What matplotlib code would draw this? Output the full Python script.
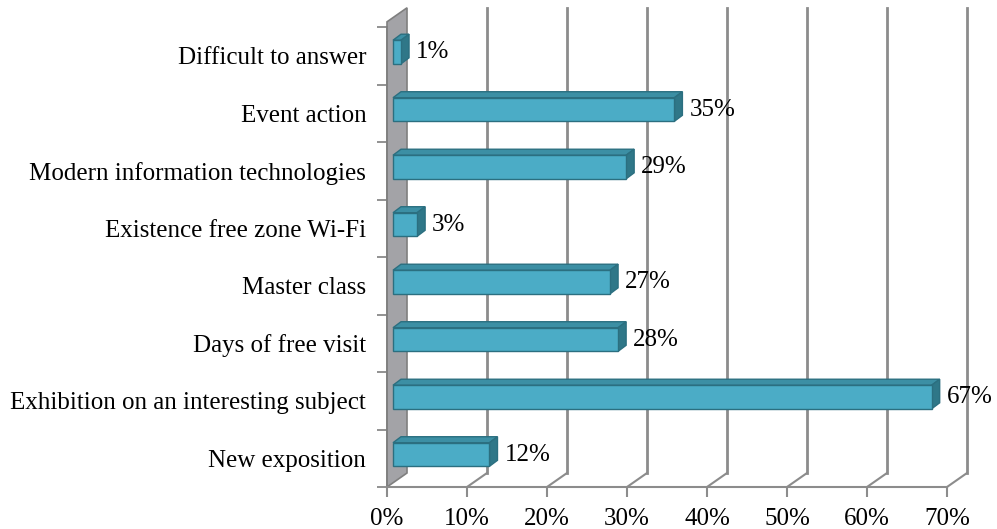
import matplotlib
matplotlib.use("Agg")
import matplotlib.pyplot as plt
from matplotlib.patches import Polygon

categories = ["New exposition", "Exhibition on an interesting subject", "Days of free visit",
              "Master class", "Existence free zone Wi-Fi", "Modern information technologies",
              "Event action", "Difficult to answer"]
values = [12, 67, 28, 27, 3, 29, 35, 1]
xticks = [0, 10, 20, 30, 40, 50, 60, 70]
xticklabels = ["0%", "10%", "20%", "30%", "40%", "50%", "60%", "70%"]

plt.rcParams['font.family'] = ['Liberation Serif', 'DejaVu Serif']
FS = 18

W, H = 997, 529
fig = plt.figure(figsize=(W / 100, H / 100), dpi=100)
# front plane: x 0..70 -> px 387..947, y 0..8 -> px 487..27 (from top)
left, right = 387, 947
bottom_px, top_px = 487, 27
ax = fig.add_axes([left / W, (H - bottom_px) / H, (right - left) / W, (bottom_px - top_px) / H])
ax.set_xlim(0, 70)
ax.set_ylim(0, 8)
ax.set_facecolor("none")

pxx = 70 / (right - left)      # data units per px (x)
pxy = 8 / (bottom_px - top_px)  # data units per px (y)
DX, DY = 20 * pxx, 14 * pxy     # depth offset
grid_c = "#8c8c8c"
top_y = 8.09

# left wall
wall = Polygon([(0, 0), (DX, DY), (DX, top_y + DY), (0, top_y)], closed=True,
               facecolor="#a3a3a7", edgecolor="#7f7f7f", lw=1.2, clip_on=False, zorder=1)
ax.add_patch(wall)

# back wall gridlines and floor diagonals
for xt in xticks[1:]:
    ax.plot([xt + DX, xt + DX], [DY, top_y + DY], color=grid_c, lw=2, clip_on=False, zorder=1)
    ax.plot([xt, xt + DX], [0, DY], color=grid_c, lw=1.5, clip_on=False, zorder=1)

# bars
bx0 = 6 * pxx
bscale = 1.005
bdx, bdy = 8 * pxx, 6 * pxy
face_c, top_c, side_c, edge_c = "#4bacc6", "#3c8fa4", "#2f7788", "#2b6f80"
for i, v in enumerate(values):
    y0, y1 = i + 0.36, i + 0.77
    x0, x1 = bx0, bx0 + v * bscale
    topf = Polygon([(x0, y1), (x0 + bdx, y1 + bdy), (x1 + bdx, y1 + bdy), (x1, y1)],
                   facecolor=top_c, edgecolor=edge_c, lw=1, clip_on=False, zorder=3)
    side = Polygon([(x1, y0), (x1 + bdx, y0 + bdy), (x1 + bdx, y1 + bdy), (x1, y1)],
                   facecolor=side_c, edgecolor=edge_c, lw=1, clip_on=False, zorder=3)
    front = Polygon([(x0, y0), (x1, y0), (x1, y1), (x0, y1)],
                    facecolor=face_c, edgecolor=edge_c, lw=1, clip_on=False, zorder=4)
    for p in (topf, side, front):
        ax.add_patch(p)
    ax.text(x1 + bdx + 7 * pxx, (y0 + y1) / 2, f"{v}%", ha="left", va="center",
            fontsize=FS, color="black", zorder=5, clip_on=False)

# axes styling
for s in ("top", "right"):
    ax.spines[s].set_visible(False)
ax.spines["bottom"].set_color(grid_c)
ax.spines["bottom"].set_linewidth(1.5)
ax.spines["left"].set_color("#7f7f7f")
ax.spines["left"].set_linewidth(1.2)

ax.set_xticks(xticks)
ax.set_xticklabels(xticklabels, fontsize=FS)
ax.tick_params(axis="x", length=7, width=1.5, color=grid_c, pad=8)

ax.set_yticks(range(0, 9))
ax.set_yticklabels([])
ax.tick_params(axis="y", which="major", length=7, width=1.2, color="#7f7f7f")
ax.set_yticks([i + 0.5 for i in range(len(categories))], minor=True)
ax.set_yticklabels(categories, minor=True, fontsize=FS)
ax.tick_params(axis="y", which="minor", length=0, pad=15)

fig.savefig("out.png", dpi=100)
